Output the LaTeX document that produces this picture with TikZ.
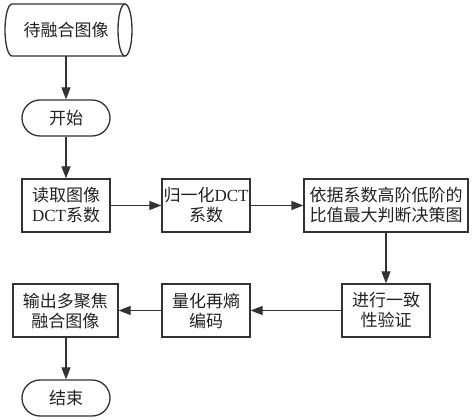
\documentclass[tikz,border=0pt]{standalone}
\usepackage{fontspec}
\setmainfont{Noto Sans CJK SC}
\newfontfamily\latinf{Liberation Serif}
\usetikzlibrary{arrows.meta}
\definecolor{ln}{HTML}{333333}
\definecolor{tx}{HTML}{222222}
\begin{document}
\begin{tikzpicture}[x=1pt,y=1pt,
  every node/.style={font=\fontsize{17}{20}\selectfont, text=tx, align=center, inner sep=0pt},
  box/.style={draw=ln, line width=1.3pt, minimum height=53pt},
  term/.style={draw=ln, line width=1.3pt, minimum height=36pt, minimum width=88pt, rounded corners=18pt},
  arr/.style={draw=ln, line width=1.3pt, -{Triangle[length=12pt,width=9pt]}}]
\useasboundingbox (0,0) rectangle (474,420);
% cylinder
\draw[ln, line width=1.3pt] (125,416) -- (12,416) arc[start angle=90, end angle=270, x radius=7, y radius=26] -- (125,364);
\draw[ln, line width=1.3pt] (125,390) ellipse [x radius=7, y radius=26];
\node[minimum height=52pt, minimum width=100pt] (src) at (66,390) {待融合图像};
\node[term] (start) at (66,302) {开始};
\node[box, minimum width=88pt] (read) at (66,214.5) {读取图像\\{\latinf DCT}系数};
\node[box, minimum width=88pt] (norm) at (206,214.5) {归一化{\latinf DCT}\\系数};
\node[box, minimum width=164pt] (dec) at (386,214.5) {依据系数高阶低阶的\\比值最大判断决策图};
\node[box, minimum width=88pt] (ver) at (386,109.5) {进行一致\\性验证};
\node[box, minimum width=88pt] (quant) at (206,109.5) {量化再熵\\编码};
\node[box, minimum width=105pt] (out) at (65.5,109.5) {输出多聚焦\\融合图像};
\node[term] (end) at (66,22) {结束};
\draw[arr] (src.south) -- (start.north);
\draw[arr] (start.south) -- (read.north);
\draw[arr] (read.east) -- (norm.west);
\draw[arr] (norm.east) -- (dec.west);
\draw[arr] (dec.south) -- (ver.north);
\draw[arr] (ver.west) -- (quant.east);
\draw[arr] (quant.west) -- (out.east);
\draw[arr] (out.south -| end.north) -- (end.north);
\end{tikzpicture}
\end{document}
